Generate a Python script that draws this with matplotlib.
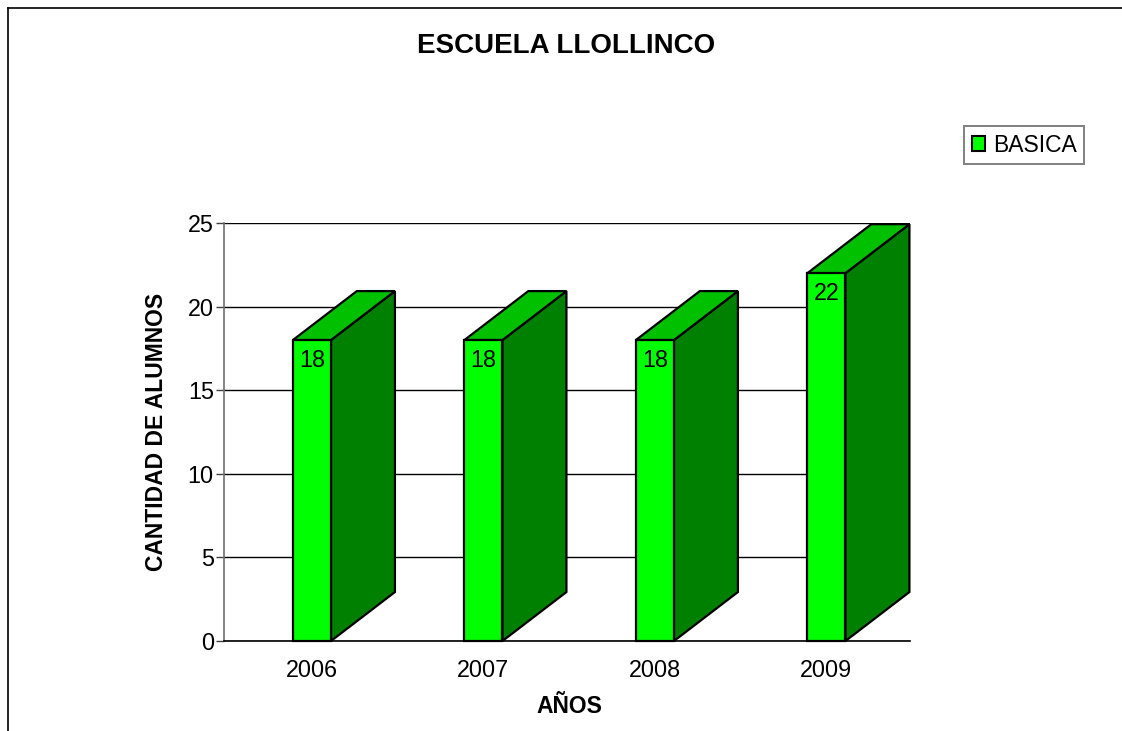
import matplotlib
matplotlib.use("Agg")
from matplotlib import pyplot as plt
from matplotlib.patches import Rectangle
from matplotlib.lines import Line2D

# data
years = ["2006", "2007", "2008", "2009"]
alumnos = [18, 18, 18, 22]
serie = "BASICA"

# colours of the pseudo 3d bars
front_col = "#00FF00"
top_col = "#00C000"
side_col = "#008000"

plt.rcParams["font.family"] = ["Liberation Sans", "DejaVu Sans"]

fig = plt.figure(figsize=(11.22, 7.31), dpi=100)
ax = fig.add_axes([0.1996, 0.1231, 0.6114, 0.5718])

# bar geometry (in data units)
left_off = 0.402
bar_w = 0.222
dx = 0.373
dy = 2.93

for i, val in enumerate(alumnos):
    x0 = i + left_off
    x1 = x0 + bar_w
    kw = dict(edgecolor="black", linewidth=1.6, zorder=3, clip_on=False,
              joinstyle="miter")
    # side face
    ax.fill([x1, x1 + dx, x1 + dx, x1], [0, dy, val + dy, val],
            facecolor=side_col, **kw)
    # top face
    ax.fill([x0, x1, x1 + dx, x0 + dx], [val, val, val + dy, val + dy],
            facecolor=top_col, **kw)
    # front face
    ax.fill([x0, x1, x1, x0], [0, 0, val, val], facecolor=front_col, **kw)
    ax.annotate(str(val), xy=(x0 + bar_w / 2, val), xytext=(0, -19.5),
                textcoords="offset points", ha="center", va="baseline",
                fontsize=16.8, zorder=4)

ax.set_xlim(0, 4)
ax.set_ylim(0, 25)
ax.set_yticks([0, 5, 10, 15, 20, 25])
ax.set_xticks([i + left_off + bar_w / 2 for i in range(len(years))])
ax.set_xticklabels(years)
ax.tick_params(axis="y", length=5.8, width=1, color="#404040", pad=1.5,
               labelsize=16.8)
ax.tick_params(axis="x", length=0, pad=13, labelsize=16.8)

ax.grid(axis="y", color="black", linewidth=1)
ax.set_axisbelow(True)
ax.spines["top"].set_visible(False)
ax.spines["right"].set_visible(False)
ax.spines["left"].set_color("#707070")
ax.spines["left"].set_linewidth(1.2)
ax.spines["bottom"].set_color("black")
ax.spines["bottom"].set_linewidth(1.2)

ax.set_ylabel("CANTIDAD DE ALUMNOS", fontsize=16.5, fontweight="bold")
ax.yaxis.set_label_coords(-0.0977, 0.5)
ax.yaxis.label.set_va("center")
ax.set_xlabel("AÑOS", fontsize=16.5, fontweight="bold")
ax.xaxis.set_label_coords(0.504, -0.1555)
ax.xaxis.label.set_va("center")

fig.suptitle("ESCUELA LLOLLINCO", x=0.5045, y=1 - 46 / 731, va="center",
             fontsize=20, fontweight="bold")

handle = Rectangle((0, 0), 1, 1, facecolor=front_col, edgecolor="black",
                   linewidth=1.5)
leg = fig.legend([handle], [serie], loc="center",
                 bbox_to_anchor=(0.9127, 1 - 145 / 731), fontsize=16.5,
                 fancybox=False, handlelength=0.58, handleheight=0.58,
                 handletextpad=0.35, borderpad=0.32, borderaxespad=0)
leg.get_frame().set_edgecolor("#606060")
leg.get_frame().set_linewidth(1.4)

# outer border of the page (left and top only)
fig.add_artist(Line2D([8 / 1122, 8 / 1122], [0, 1 - 8 / 731],
                      transform=fig.transFigure, color="black", linewidth=1.2))
fig.add_artist(Line2D([8 / 1122, 1], [1 - 8 / 731, 1 - 8 / 731],
                      transform=fig.transFigure, color="black", linewidth=1.2))

fig.savefig("out.png", dpi=100)
